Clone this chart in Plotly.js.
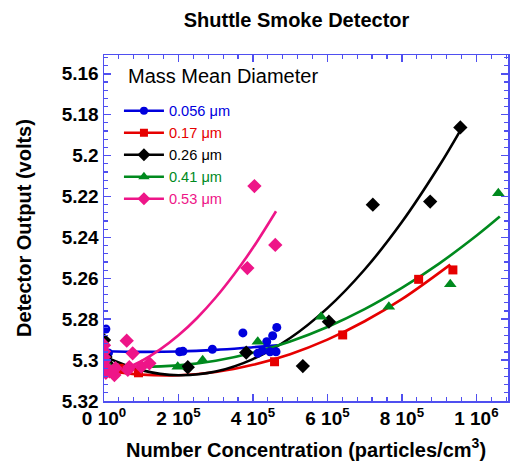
<!DOCTYPE html>
<html>
<head>
<meta charset="utf-8">
<script src="https://cdn.plot.ly/plotly-3.0.1.min.js"></script>
<style>html,body{margin:0;padding:0;background:#fff;}#chart{width:513px;height:465px;}</style>
</head>
<body>
<div id="chart"></div>
<script>
// ---- data (x: particles/cm^3, y: volts) ----
const legendTitle = 'Mass Mean Diameter';
const seriesNames = ['0.056 \u03bcm', '0.17 \u03bcm', '0.26 \u03bcm', '0.41 \u03bcm', '0.53 \u03bcm'];

const blueX = [0, 5e3, 1.2e4, 2.03e5, 2.12e5, 2.91e5, 3.73e5, 4.13e5, 4.25e5, 4.37e5, 4.46e5, 4.53e5, 4.62e5, 4.64e5];
const blueY = [5.2960, 5.2848, 5.2965, 5.2959, 5.2957, 5.2947, 5.2867, 5.2967, 5.2954, 5.2910, 5.2959, 5.2881, 5.2959, 5.2840];

const redX = [2e3, 1.5e4, 4.1e4, 9.26e4, 4.58e5, 6.41e5, 8.45e5, 9.37e5];
const redY = [5.3050, 5.3058, 5.3040, 5.3062, 5.3008, 5.2877, 5.2605, 5.2559];

const blackX = [0, 4e3, 1e4, 2.25e5, 3.82e5, 5.34e5, 6.04e5, 7.22e5, 8.76e5, 9.57e5];
const blackY = [5.2902, 5.2985, 5.3020, 5.3035, 5.2963, 5.3029, 5.2812, 5.2240, 5.2225, 5.1862];

const greenX = [3e3, 1.5e4, 1.98e5, 2.65e5, 4.13e5, 5.83e5, 7.65e5, 9.30e5, 1.059e6];
const greenY = [5.3025, 5.3035, 5.3032, 5.3001, 5.2910, 5.2788, 5.2739, 5.2629, 5.2184];

const pinkX = [0, 0, 0, 0, 2e3, 3e3, 5e3, 8e3, 1.5e4, 2.8e4, 3.1e4, 6.1e4, 6.4e4, 6.8e4, 7.7e4, 1e5, 1.22e5, 3.85e5, 4.04e5, 4.6e5];
const pinkY = [5.2927, 5.2958, 5.2985, 5.3005, 5.3030, 5.3050, 5.3062, 5.3040, 5.3055, 5.3073, 5.3039, 5.2905, 5.3048, 5.3034, 5.2967, 5.3032, 5.3016, 5.2550, 5.2149, 5.2437];

// fitted curves
const blueFitX = [0, 1e5, 2e5, 3e5, 4e5, 4.66e5];
const blueFitY = [5.2957, 5.2960, 5.2958, 5.2950, 5.2937, 5.2928];
const redFitX = [0, 1e5, 2e5, 3e5, 4e5, 5e5, 6e5, 7e5, 8e5, 9.3e5];
const redFitY = [5.3050, 5.3071, 5.3074, 5.3058, 5.3023, 5.2971, 5.2900, 5.2810, 5.2702, 5.2533];
const blackFitX = [0, 1e5, 2e5, 3e5, 4e5, 5e5, 6e5, 7e5, 8e5, 9e5, 9.56e5];
const blackFitY = [5.2982, 5.3049, 5.3074, 5.3056, 5.2995, 5.2892, 5.2746, 5.2557, 5.2325, 5.2051, 5.1880];
const greenFitX = [0, 1e5, 2e5, 3e5, 4e5, 5e5, 6e5, 7e5, 8e5, 9e5, 1e6, 1.063e6];
const greenFitY = [5.3024, 5.3033, 5.3026, 5.3003, 5.2964, 5.2909, 5.2838, 5.2751, 5.2647, 5.2528, 5.2392, 5.2298];
const pinkFitX = [0, 5e4, 1e5, 1.5e5, 2e5, 2.5e5, 3e5, 3.5e5, 4e5, 4.62e5];
const pinkFitY = [5.3073, 5.3046, 5.3005, 5.2949, 5.2879, 5.2794, 5.2694, 5.2579, 5.2451, 5.2272];

const xTickVals = [0, 2e5, 4e5, 6e5, 8e5, 1e6];
const xTickText = ['0 10<sup>0</sup>', '2 10<sup>5</sup>', '4 10<sup>5</sup>', '6 10<sup>5</sup>', '8 10<sup>5</sup>', '1 10<sup>6</sup>'];
const yTickVals = [5.16, 5.18, 5.2, 5.22, 5.24, 5.26, 5.28, 5.3, 5.32];
const yTickText = ['5.16', '5.18', '5.2', '5.22', '5.24', '5.26', '5.28', '5.3', '5.32'];

// ---- styling ----
const colors = ['#0000dd', '#e60000', '#000000', '#008a1e', '#ee1588'];
const symbols = ['circle', 'square', 'diamond', 'triangle-up', 'diamond'];
const msizes = [9, 9, 11, 11, 11];
const FONT = 'Liberation Sans, Arial, Helvetica, sans-serif';
const AXC = '#4f4ff0';

const pts = [[blueX, blueY], [redX, redY], [blackX, blackY], [greenX, greenY], [pinkX, pinkY]];
const fits = [[blueFitX, blueFitY], [redFitX, redFitY], [blackFitX, blackFitY], [greenFitX, greenFitY], [pinkFitX, pinkFitY]];

const traces = [];
for (let i = 0; i < 5; i++) {
  traces.push({
    x: fits[i][0], y: fits[i][1], type: 'scatter', mode: 'lines',
    line: {color: colors[i], width: 2.6, shape: 'spline', smoothing: 1},
    showlegend: false, hoverinfo: 'skip'
  });
}
for (let i = 0; i < 5; i++) {
  traces.push({
    x: pts[i][0], y: pts[i][1], type: 'scatter', mode: 'markers',
    marker: {color: colors[i], symbol: symbols[i], size: msizes[i], line: {width: 0}},
    showlegend: false
  });
}
for (let i = 0; i < 5; i++) {
  traces.push({
    x: [null], y: [null], type: 'scatter', mode: 'lines+markers',
    name: '<span style="color:' + colors[i] + '">' + seriesNames[i] + '</span>',
    line: {color: colors[i], width: 2.6},
    marker: {color: colors[i], symbol: symbols[i], size: msizes[i] - 1},
    showlegend: true
  });
}

const layout = {
  width: 513, height: 465,
  margin: {l: 104, r: 5, t: 55, b: 64},
  paper_bgcolor: '#ffffff', plot_bgcolor: '#ffffff',
  font: {family: FONT, color: '#000'},
  title: {text: 'Shuttle Smoke Detector', font: {family: FONT, size: 20, weight: 'bold', color: '#000'},
          xref: 'container', x: 0.578, xanchor: 'center', yref: 'container', y: 0.957, yanchor: 'middle'},
  xaxis: {
    range: [0, 1.085e6], tickvals: xTickVals, ticktext: xTickText,
    showgrid: false, zeroline: false, showline: true, linecolor: AXC, linewidth: 1.5, mirror: 'ticks',
    ticks: 'inside', ticklen: 7, tickwidth: 1.5, tickcolor: AXC,
    tickfont: {family: FONT, size: 19, weight: 'bold', color: '#000'},
    minor: {dtick: 4e4, ticks: 'inside', ticklen: 4, tickwidth: 1.2, tickcolor: AXC, showgrid: false},
    title: {text: 'Number Concentration (particles/cm<sup>3</sup>)', font: {family: FONT, size: 20, weight: 'bold', color: '#000'}, standoff: 14}
  },
  yaxis: {
    range: [5.32, 5.1508], tickvals: yTickVals, ticktext: yTickText,
    showgrid: false, zeroline: false, showline: true, linecolor: AXC, linewidth: 1.5, mirror: 'ticks',
    ticks: 'inside', ticklen: 7, tickwidth: 1.5, tickcolor: AXC,
    tickfont: {family: FONT, size: 19, weight: 'bold', color: '#000'},
    minor: {dtick: 0.004, ticks: 'inside', ticklen: 4, tickwidth: 1.2, tickcolor: AXC, showgrid: false},
    title: {text: 'Detector Output (volts)', font: {family: FONT, size: 20, weight: 'bold', color: '#000'}, standoff: 24}
  },
  annotations: [{
    text: legendTitle, xref: 'paper', yref: 'paper', x: 0.0545, y: 0.939,
    xanchor: 'left', yanchor: 'middle', showarrow: false,
    font: {family: FONT, size: 20, color: '#000'}
  }],
  legend: {
    x: 0.037, y: 0.885, xanchor: 'left', yanchor: 'top',
    bgcolor: 'rgba(0,0,0,0)', borderwidth: 0, itemwidth: 40,
    font: {family: FONT, size: 14.6},
    tracegroupgap: 0
  },
  showlegend: true
};

Plotly.newPlot('chart', traces, layout, {staticPlot: true, displayModeBar: false});
</script>
</body>
</html>
